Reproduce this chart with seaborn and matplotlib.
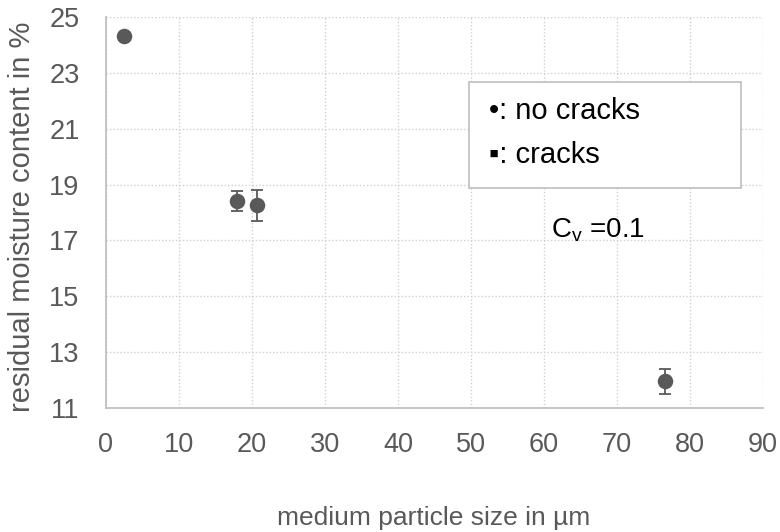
import matplotlib
matplotlib.use("Agg")
import matplotlib.pyplot as plt
from matplotlib.patches import Rectangle
import seaborn as sns
import pandas as pd

# Measured residual moisture vs. medium particle size
particle_size = [2.4, 17.9, 20.7, 76.6]
moisture = [24.32, 18.40, 18.26, 11.96]
moisture_err = [0.0, 0.36, 0.56, 0.46]

x_ticks = [0, 10, 20, 30, 40, 50, 60, 70, 80, 90]
y_ticks = [11, 13, 15, 17, 19, 21, 23, 25]

df = pd.DataFrame({"size": particle_size, "moisture": moisture, "err": moisture_err})

sns.set_theme(style="white")
plt.rcParams["font.family"] = ["Liberation Sans", "DejaVu Sans"]

W, H = 780, 532
grey = "#595959"
fig = plt.figure(figsize=(7.8, 5.32), dpi=100)
ax = fig.add_axes([106 / W, 1 - 408.3 / H, (763 - 106) / W, (408.3 - 16.7) / H])

ax.errorbar(df["size"], df["moisture"], yerr=df["err"], fmt="none",
            ecolor=grey, elinewidth=1.3, capsize=4.5, capthick=1.3, zorder=3)
sns.scatterplot(data=df, x="size", y="moisture", ax=ax, s=125,
                color=grey, edgecolor=grey, linewidth=0, zorder=4, legend=False)

ax.set_xlim(0, 90)
ax.set_ylim(11, 25)
ax.set_xticks(x_ticks)
ax.set_yticks(y_ticks)
ax.tick_params(axis="both", labelsize=19.5, labelcolor=grey, length=0)
ax.tick_params(axis="y", pad=19)
ax.tick_params(axis="x", pad=17)

ax.grid(True, color="#d0d0d0", linestyle=(0, (1, 1.5)), linewidth=1.0)
ax.set_axisbelow(True)
for side in ["top", "right"]:
    ax.spines[side].set_visible(False)
for side in ["left", "bottom"]:
    ax.spines[side].set_color("#c0c0c0")
    ax.spines[side].set_linewidth(1.3)

ax.set_xlabel("")
ax.set_ylabel("")
fig.text(434 / W, 1 - 525 / H, "medium particle size in µm", fontsize=19,
         color=grey, ha="center", va="baseline")
fig.text(22 / W, 1 - 217 / H, "residual moisture content in %", fontsize=21,
         color=grey, ha="center", va="center", rotation=90)

# Marker key box
box = Rectangle((469 / W, 1 - 188 / H), (741 - 469) / W, (188 - 82) / H,
                transform=fig.transFigure, facecolor="white", edgecolor="#bfbfbf",
                linewidth=1.2, zorder=5)
fig.patches.append(box)
fig.text(489 / W, 1 - 111 / H, "•: no cracks", fontsize=21, color="black",
         va="center", ha="left", zorder=6)
fig.text(489 / W, 1 - 155 / H, "▪: cracks", fontsize=21, color="black",
         va="center", ha="left", zorder=6)
fig.text(551 / W, 1 - 230 / H, r"C$_\mathregular{v}$ =0.1", fontsize=20,
         color="black", va="center", ha="left")

fig.savefig("out.png", dpi=100)
